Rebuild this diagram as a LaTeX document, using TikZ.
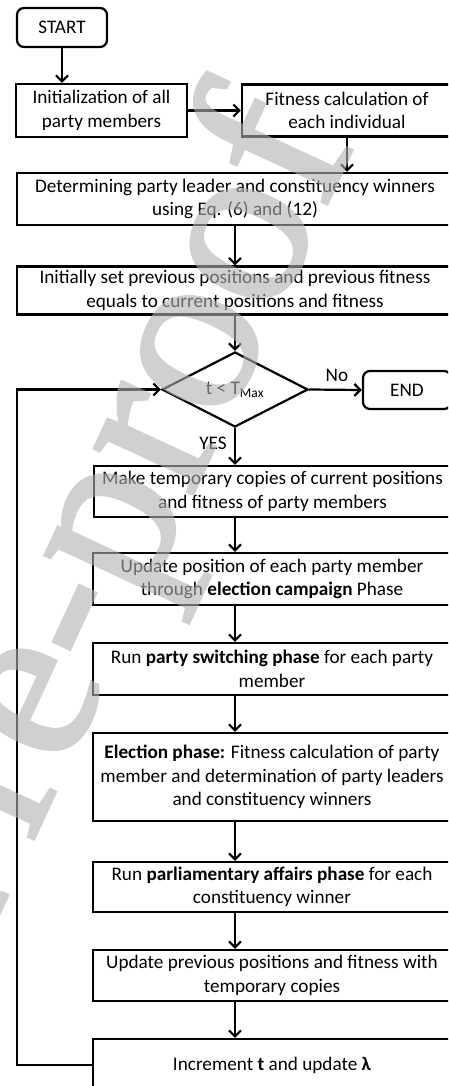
\documentclass[tikz,border=0pt]{standalone}
\usepackage{fontspec}
\setmainfont{Carlito}
\newfontfamily\wmfont[FakeBold=1.5]{Liberation Serif}
\usetikzlibrary{arrows.meta,shapes.geometric}
\definecolor{wmgray}{rgb}{0.7,0.7,0.7}
\newcommand\boxfont{\fontsize{19.2}{23.5}\selectfont}
\begin{document}
\begin{tikzpicture}[x=1pt,y=-1pt,
  box/.style={draw, line width=2.2pt, inner sep=0pt, align=center, font=\boxfont},
  term/.style={box, rounded corners=7pt},
  decision/.style={draw, line width=2.2pt, diamond, aspect=2, inner sep=0pt, font=\boxfont},
  lbl/.style={font=\boxfont, inner sep=0pt},
  arr/.style={line width=2.2pt, -{Straight Barb[length=6pt,width=12pt]}},
  wm/.style={font=\wmfont\fontsize{236}{236}\selectfont, text=wmgray, inner sep=0pt}]
\clip (0,0) rectangle (448,1086);
\fill[white] (0,0) rectangle (448,1086);
\node[term, minimum width=90pt, minimum height=39pt] (start) at (62,27.5) {START};
\node[box, minimum width=171pt, minimum height=53pt] (init) at (101.5,110.5) {Initialization of all\\party members};
\node[box, minimum width=210pt, minimum height=52pt] (fit) at (347,110.5) {Fitness calculation of\\each individual};
\node[box, minimum width=436pt, minimum height=52pt] (det) at (235,199) {Determining party leader and constituency winners\\using Eq. (6) and (12)};
\node[box, minimum width=436pt, minimum height=48pt] (iset) at (235,290.5) {Initially set previous positions and previous fitness\\equals to current positions and fitness};
\node[decision, minimum width=146pt, minimum height=75pt] (dia) at (235,389.5) {t < T\textsubscript{Max}};
\node[term, minimum width=88pt, minimum height=38pt] (end) at (407,390) {END};
\node[box, minimum width=357pt, minimum height=51pt] (temp) at (272.5,491.5) {Make temporary copies of current positions\\and fitness of party members};
\node[box, minimum width=358pt, minimum height=52pt] (upd) at (272,579) {Update position of each party member\\through \textbf{election campaign} Phase};
\node[box, minimum width=358pt, minimum height=52pt] (run) at (272,669) {Run \textbf{party switching phase} for each party\\member};
\node[box, minimum width=358pt, minimum height=88pt] (elec) at (272,777) {\textbf{Election phase:} Fitness calculation of party\\member and determination of party leaders\\and constituency winners};
\node[box, minimum width=358pt, minimum height=50pt] (parl) at (272,887) {Run \textbf{parliamentary affairs phase} for each\\constituency winner};
\node[box, minimum width=358pt, minimum height=51pt] (uprev) at (272,975.5) {Update previous positions and fitness with\\temporary copies};
\node[box, minimum width=358pt, minimum height=52pt] (inc) at (272,1065) {Increment \textbf{t} and update \textbf{λ}};
\node[lbl] (no) at (337,375) {No};
\node[lbl] (yes) at (213,443) {YES};
\coordinate (loopc) at (17,1065);
\draw[arr] (start.south) -- (start.south |- init.north);
\draw[arr] (init.east) -- (fit.west);
\draw[arr] (fit.south) -- (fit.south |- det.north);
\draw[arr] (det.south) -- (iset.north);
\draw[arr] (iset.south) -- (dia.north);
\draw[arr] (dia.east) -- (end.west);
\draw[arr] (dia.south) -- (dia.south |- temp.north);
\draw[arr] (temp.south -| dia.south) -- (upd.north -| dia.south);
\draw[arr] (upd.south -| dia.south) -- (run.north -| dia.south);
\draw[arr] (run.south -| dia.south) -- (elec.north -| dia.south);
\draw[arr] (elec.south -| dia.south) -- (parl.north -| dia.south);
\draw[arr] (parl.south -| dia.south) -- (uprev.north -| dia.south);
\draw[arr] (uprev.south -| dia.south) -- (inc.north -| dia.south);
\draw[arr] (inc.west) -- (loopc) |- (dia.west);
\begin{scope}[transparency group, opacity=0.6]
\node[wm, rotate=65.2, anchor=base east] (wmark) at (356,141) {Journal Pre-proof};
\end{scope}
\end{tikzpicture}
\end{document}
